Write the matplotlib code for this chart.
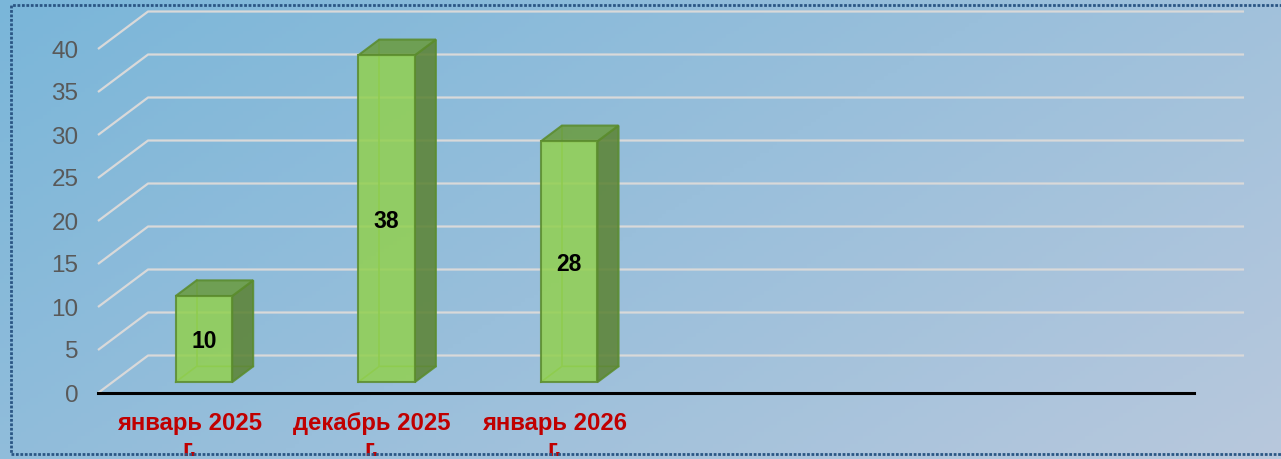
import matplotlib
matplotlib.use("Agg")
import matplotlib.pyplot as plt
import numpy as np
from matplotlib.patches import Polygon, Rectangle

plt.rcParams['font.family'] = ['Liberation Sans', 'DejaVu Sans']

# data
categories = ['январь 2025\nг.', 'декабрь 2025\nг.', 'январь 2026\nг.']
values = [10, 38, 28]
y_ticks = list(range(0, 41, 5))
n_slots = 6  # the chart keeps room for six months, only three filled

# 3d look (data units)
depth_x, depth_y = 0.274, 4.36
bar_w = 0.31
bar_front, bar_back = 0.29, 0.71

W, H = 1281, 459
fig = plt.figure(figsize=(W / 100, H / 100), dpi=100)

# background gradient
bg = fig.add_axes([0, 0, 1, 1], zorder=-5)
gx, gy = np.meshgrid(np.linspace(0, 1, 300), np.linspace(0, 1, 120))
t = np.clip((gx * W + gy * H * 1.6) / (W + H * 1.6), 0, 1)
c0 = np.array([122, 182, 217]) / 255
c1 = np.array([184, 200, 221]) / 255
img = c0[None, None, :] * (1 - t[..., None]) + c1[None, None, :] * t[..., None]
bg.imshow(img, extent=[0, 1, 0, 1], aspect='auto', origin='upper')
bg.set_xlim(0, 1)
bg.set_ylim(0, 1)
bg.axis('off')

# dotted frame
fig.patches.append(Rectangle((11 / W, 5 / H), 1.1, (454 - 5) / H, transform=fig.transFigure,
                             fill=False, edgecolor='#2B5684', lw=2.0, linestyle=(0, (1, 0.6)),
                             zorder=10))

ax = fig.add_axes([98 / W, (H - 393) / H, (1194 - 98) / W, (393 - 49) / H])
ax.set_xlim(-0.5, n_slots - 0.5)
ax.set_ylim(0, 40)
ax.patch.set_visible(False)
for s in ax.spines.values():
    s.set_visible(False)

# perspective gridlines
for v in y_ticks:
    ax.plot([-0.5, -0.5 + depth_x, n_slots - 0.5 + depth_x], [v, v + depth_y, v + depth_y],
            color='#D9D9D9', lw=1.6, clip_on=False, zorder=1, solid_capstyle='butt')
ax.plot([-0.5, n_slots - 0.5], [0, 0], color='black', lw=2.2, clip_on=False, zorder=6)

front_c, side_c, top_c, edge_c = '#92D050', '#5D8436', '#6B9C42', '#5B8C2E'
bdx = (bar_back - bar_front) * depth_x
bdy = (bar_back - bar_front) * depth_y
for i, v in enumerate(values):
    x0 = i - bar_w / 2 + bar_front * depth_x
    x1 = x0 + bar_w
    y0 = bar_front * depth_y
    y1 = v + y0
    # hidden edges seen through the glassy bar
    ax.plot([x0, x0 + bdx, x1 + bdx], [y0, y0 + bdy, y0 + bdy], color='#7DB84A', lw=1.2,
            zorder=2, clip_on=False)
    ax.plot([x0 + bdx, x0 + bdx], [y0 + bdy, y1 + bdy], color='#7DB84A', lw=1.2,
            zorder=2, clip_on=False)
    ax.add_patch(Polygon([(x1, y0), (x1 + bdx, y0 + bdy), (x1 + bdx, y1 + bdy), (x1, y1)],
                         facecolor=side_c, edgecolor=edge_c, lw=1.5, alpha=0.88, zorder=3,
                         clip_on=False))
    ax.add_patch(Polygon([(x0, y1), (x1, y1), (x1 + bdx, y1 + bdy), (x0 + bdx, y1 + bdy)],
                         facecolor=top_c, edgecolor=edge_c, lw=1.5, alpha=0.88, zorder=3,
                         clip_on=False))
    ax.add_patch(Polygon([(x0, y0), (x1, y0), (x1, y1), (x0, y1)],
                         facecolor=front_c, edgecolor=edge_c, lw=1.5, alpha=0.85, zorder=4,
                         clip_on=False))
    ax.text((x0 + x1) / 2, y0 + v / 2, str(v), ha='center', va='center_baseline',
            fontsize=16.5, fontweight='bold', color='black', zorder=7)

ax.set_yticks(y_ticks)
ax.set_xticks(range(len(categories)))
ax.set_xticklabels(categories, color='#C00000', fontsize=17.2, fontweight='bold',
                   linespacing=1.12)
ax.tick_params(axis='y', length=0, pad=14, labelsize=17.5, labelcolor='#595959')
ax.tick_params(axis='x', length=0, pad=14)

fig.savefig('out.png', dpi=100)
